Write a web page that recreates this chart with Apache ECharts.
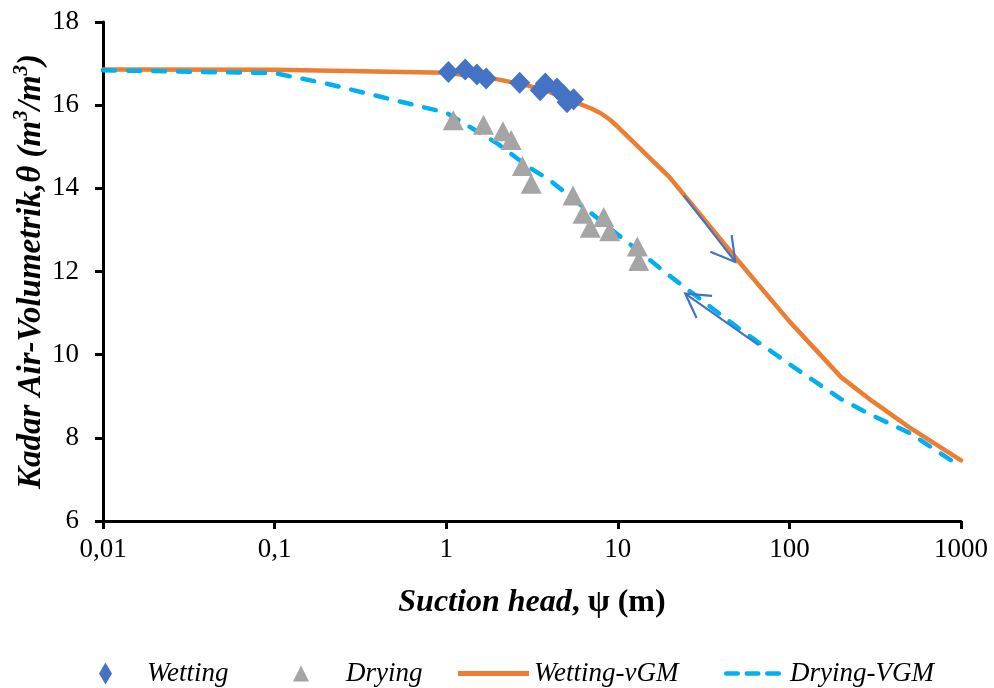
<!DOCTYPE html>
<html>
<head>
<meta charset="utf-8">
<script src="https://cdn.jsdelivr.net/npm/echarts@6/dist/echarts.min.js"></script>
<style>
  html, body { margin: 0; padding: 0; background: #fff; }
  #chart { width: 994px; height: 688px; }
</style>
</head>
<body>
<div id="chart"></div>
<script>
// Measured points (suction head ψ in m, volumetric water content θ)
const wettingPsi   = [1.03, 1.29, 1.51, 1.71, 2.68, 3.53, 3.78, 4.42, 4.83, 5.06, 5.53];
const wettingTheta = [16.80, 16.86, 16.74, 16.64, 16.54, 16.36, 16.52, 16.40, 16.24, 16.07, 16.14];

const dryingPsi   = [1.10, 1.65, 2.14, 2.39, 2.78, 3.13, 5.48, 6.27, 6.91, 8.28, 8.97, 13.0, 13.25];
const dryingTheta = [15.64, 15.53, 15.37, 15.16, 14.54, 14.11, 13.83, 13.39, 13.05, 13.31, 12.97, 12.60, 12.25];

// van Genuchten-Mualem fitted curves
const wetFitPsi   = [0.01, 0.1, 1, 2, 3, 4, 5, 6, 7, 8, 9, 10, 20, 50, 100, 200, 300, 500, 1000];
const wetFitTheta = [16.86, 16.85, 16.78, 16.62, 16.47, 16.32, 16.15, 16.03, 15.92, 15.80, 15.65, 15.48, 14.27, 12.27, 10.80, 9.46, 8.90, 8.25, 7.46];

const dryFitPsi   = [0.01, 0.1, 0.2, 0.5, 1, 2, 3, 4, 5, 7, 10, 20, 50, 100, 200, 300, 500, 1000];
const dryFitTheta = [16.84, 16.77, 16.52, 16.12, 15.82, 15.07, 14.52, 14.20, 13.88, 13.40, 12.89, 11.90, 10.65, 9.77, 8.93, 8.55, 8.12, 7.30];

// Hysteresis direction arrows: [ψ start, θ start, ψ end, θ end]
const arrowPaths = [
  [24.2, 13.83, 48.4, 12.23],
  [66.2, 10.23, 24.7, 11.47]
];

const psiTickLabels = ['0,01', '0,1', '1', '10', '100', '1000'];

const zip = (xs, ys) => xs.map((x, i) => [x, ys[i]]);
const SERIF = 'Liberation Serif';

const chart = echarts.init(document.getElementById('chart'), null, { renderer: 'canvas' });

const legendText = { fontFamily: SERIF, fontStyle: 'italic', fontSize: 27, color: '#000' };
const withPad = left => Object.assign({ padding: [0, 0, 0, left] }, legendText);

// three rounded dashes for the dashed-curve legend key
const dashIcon = 'path://M2,0h10a2,2 0 0 1 0,4h-10a2,2 0 0 1 0,-4z' +
                 'M20,0h10a2,2 0 0 1 0,4h-10a2,2 0 0 1 0,-4z' +
                 'M38,0h10a2,2 0 0 1 0,4h-10a2,2 0 0 1 0,-4z';

chart.setOption({
  animation: false,
  backgroundColor: '#fff',
  grid: { left: 103, right: 33, top: 22, bottom: 167, containLabel: false, outerBoundsMode: 'none' },
  xAxis: {
    type: 'log',
    logBase: 10,
    min: 0.01,
    max: 1000,
    name: '{bi|Suction head}{b|, ψ (m)}',
    nameLocation: 'middle',
    nameGap: 66,
    nameTextStyle: {
      rich: {
        bi: { fontFamily: SERIF, fontSize: 32, fontWeight: 'bold', fontStyle: 'italic', color: '#000' },
        b:  { fontFamily: SERIF, fontSize: 32, fontWeight: 'bold', color: '#000' }
      }
    },
    axisLine: { show: true, onZero: false, lineStyle: { color: '#000', width: 3 } },
    axisTick: { show: true, length: 8, lineStyle: { color: '#000', width: 3 } },
    minorTick: { show: false },
    splitLine: { show: false },
    axisLabel: {
      margin: 15,
      fontFamily: SERIF, fontSize: 27, color: '#000',
      formatter: v => psiTickLabels[Math.round(Math.log10(v)) + 2]
    }
  },
  yAxis: {
    type: 'value',
    min: 6,
    max: 18,
    interval: 2,
    name: '{bi|Kadar Air-Volumetrik,θ (m}{sup|3}{bi|/m}{sup|3}{bi|)}',
    nameLocation: 'middle',
    nameRotate: 90,
    nameGap: 55,
    nameMoveOverlap: false,
    nameTextStyle: {
      rich: {
        bi:  { fontFamily: SERIF, fontSize: 33, fontWeight: 'bold', fontStyle: 'italic', color: '#000', lineHeight: 40, verticalAlign: 'bottom' },
        sup: { fontFamily: SERIF, fontSize: 21, fontWeight: 'bold', fontStyle: 'italic', color: '#000', lineHeight: 40, verticalAlign: 'top', padding: [3, 0, 0, 0] }
      }
    },
    axisLine: { show: true, lineStyle: { color: '#000', width: 3 } },
    axisTick: { show: true, length: 8, lineStyle: { color: '#000', width: 3 } },
    splitLine: { show: false },
    axisLabel: { margin: 24, fontFamily: SERIF, fontSize: 27, color: '#000' }
  },
  legend: [
    {
      data: [{ name: 'Wetting', icon: 'diamond' }],
      left: 94, top: 655, itemWidth: 13, itemHeight: 22,
      textStyle: withPad(30)
    },
    {
      data: [{ name: 'Drying', icon: 'triangle' }],
      left: 288, top: 655, itemWidth: 16, itemHeight: 16,
      textStyle: withPad(32)
    },
    {
      data: [{ name: 'Wetting-vGM', icon: 'rect' }],
      left: 453, top: 655, itemWidth: 71, itemHeight: 5,
      textStyle: legendText
    },
    {
      data: [{ name: 'Drying-VGM', icon: dashIcon }],
      left: 719, top: 655, itemWidth: 57, itemHeight: 5,
      textStyle: withPad(4)
    }
  ],
  series: [
    {
      name: 'Wetting-vGM',
      type: 'line',
      data: zip(wetFitPsi, wetFitTheta),
      symbol: 'none',
      smooth: false,
      z: 2,
      lineStyle: { color: '#ED7D31', width: 4.5, cap: 'round', join: 'round' },
      itemStyle: { color: '#ED7D31' }
    },
    {
      name: 'Drying-VGM',
      type: 'line',
      data: zip(dryFitPsi, dryFitTheta),
      symbol: 'none',
      smooth: false,
      z: 2,
      lineStyle: { color: '#00B0F0', width: 4.5, type: [12, 13], cap: 'round', join: 'round' },
      itemStyle: { color: '#00B0F0' }
    },
    {
      name: 'Wetting',
      type: 'scatter',
      data: zip(wettingPsi, wettingTheta),
      symbol: 'diamond',
      symbolSize: [21, 22],
      z: 4,
      itemStyle: { color: '#4472C4', opacity: 1 }
    },
    {
      name: 'Drying',
      type: 'scatter',
      data: zip(dryingPsi, dryingTheta),
      symbol: 'triangle',
      symbolSize: [21, 20],
      z: 4,
      itemStyle: { color: '#A5A5A5', opacity: 1 }
    },
    {
      name: 'arrows',
      type: 'custom',
      coordinateSystem: 'cartesian2d',
      z: 5,
      silent: true,
      encode: { x: [0, 2], y: [1, 3] },
      data: arrowPaths,
      renderItem: function (params, api) {
        const p0 = api.coord([api.value(0), api.value(1)]);
        const p1 = api.coord([api.value(2), api.value(3)]);
        const ang = Math.atan2(p0[1] - p1[1], p0[0] - p1[0]);
        const len = 27, spread = Math.PI / 6;
        const b1 = [p1[0] + len * Math.cos(ang + spread), p1[1] + len * Math.sin(ang + spread)];
        const b2 = [p1[0] + len * Math.cos(ang - spread), p1[1] + len * Math.sin(ang - spread)];
        const style = { stroke: '#4472C4', lineWidth: 2.2, fill: null };
        return {
          type: 'group',
          children: [
            { type: 'line', shape: { x1: p0[0], y1: p0[1], x2: p1[0], y2: p1[1] }, style },
            { type: 'polyline', shape: { points: [b1, p1, b2] }, style }
          ]
        };
      }
    }
  ]
});
</script>
</body>
</html>
